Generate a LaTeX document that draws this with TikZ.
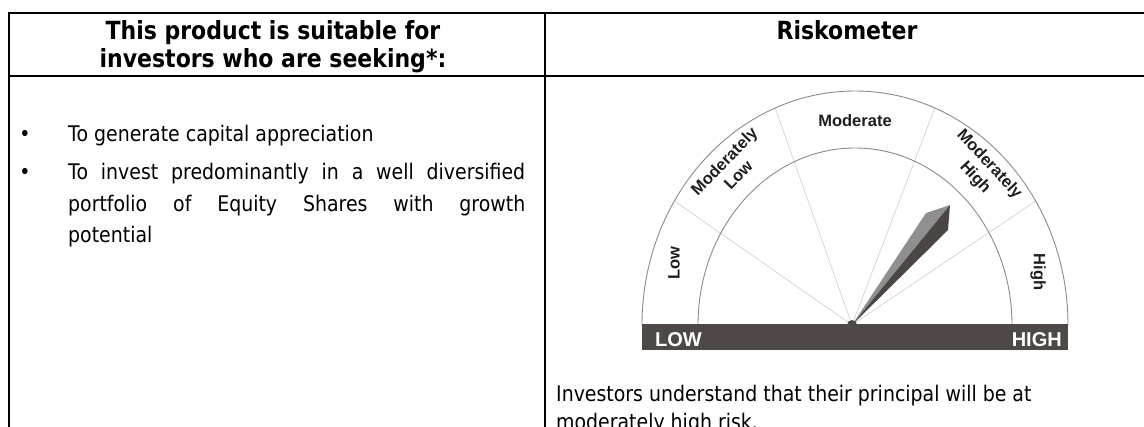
\documentclass[tikz,border=0pt]{standalone}
\usepackage{fontspec}
\setmainfont{DejaVu Sans}[FakeStretch=0.88]
\newfontfamily\gaugefont{Liberation Sans}
\definecolor{bardark}{HTML}{4E4946}
\definecolor{needlelight}{HTML}{8F8F8F}
\definecolor{needledark}{HTML}{4B4643}
\definecolor{arcgray}{HTML}{8A8A8A}
\definecolor{spokegray}{HTML}{D2D2D2}
\definecolor{labelgray}{HTML}{1E1E1E}
\begin{document}
\begin{tikzpicture}[x=1pt,y=1pt,
  rule/.style={line width=2pt, draw=black},
  hdr/.style={font=\fontsize{25}{28}\selectfont\bfseries, inner sep=0pt},
  body/.style={font=\fontsize{21.5}{31.5}\selectfont, inner sep=0pt},
  glabel/.style={font=\gaugefont\bfseries\fontsize{16.5}{19.5}\selectfont, align=center, inner sep=0pt, text=labelgray},
  barlabel/.style={font=\gaugefont\bfseries\fontsize{20}{20}\selectfont, text=white, inner sep=0pt},
  arcline/.style={draw=arcgray, line width=0.9pt},
  spoke/.style={draw=spokegray, line width=0.7pt}]
\clip (0,0) rectangle (1144,426);
\useasboundingbox (0,0) rectangle (1144,426);
% table rules
\draw[rule] (9,-5) -- (9,413) -- (1150,413);
\draw[rule] (9,350) -- (1150,350);
\draw[rule] (545,-5) -- (545,413);
% headers
\node[hdr, anchor=base] (h1a) at (273,386) {This product is suitable for};
\node[hdr, anchor=base] (h1b) at (273,358) {investors who are seeking*:};
\node[hdr, anchor=base] (h2) at (847,386) {Riskometer};
% left column bullets
\node[body, anchor=base] (d1) at (25,284) {•};
\node[body, anchor=base west] (p1) at (68,284) {To generate capital appreciation};
\node[body, anchor=base] (d2) at (25,246) {•};
\node[body, anchor=base west] (p2a) at (68,246) {\makebox[457pt][s]{To invest predominantly in a well diversified}};
\node[body, anchor=base west] (p2b) at (68,214.5) {\makebox[457pt][s]{portfolio of Equity Shares with growth}};
\node[body, anchor=base west] (p2c) at (68,183) {potential};
% right column text
\node[body, anchor=base west] (r1) at (556,24) {Investors understand that their principal will be at};
\node[body, anchor=base west] (r2) at (556,-3) {moderately high risk.};
% gauge
\coordinate (C) at (855,101);
\coordinate (P) at (852,101);
\foreach \a in {32,68,112,148} {
  \draw[spoke] (P) -- ([shift={(\a:213 and 234)}]C);
}
\draw[arcline] (1068,101) arc[start angle=0, end angle=180, x radius=213, y radius=234];
\draw[arcline] (1012,101) arc[start angle=0, end angle=180, x radius=157, y radius=177];
\fill[bardark] (642,76) rectangle (1068,101.5);
\node[barlabel, anchor=base west] (lo) at (655,79) {LOW};
\node[barlabel, anchor=base east] (hi) at (1062,79) {HIGH};
\node[glabel] (lmod) at (855,305) {Moderate};
\node[glabel, rotate=90] (llow) at (674,163) {Low};
\node[glabel, rotate=-90] (lhigh) at (1038,154) {High};
\node[glabel, rotate=46] (lml) at (731,258) {Moderately\\Low};
\node[glabel, rotate=-47] (lmh) at (982,255) {Moderately\\High};
% needle
\coordinate (T) at (950,221);
\coordinate (L) at (926,213);
\coordinate (R) at (948,196);
\fill[needlelight] (P) -- (L) -- (T) -- cycle;
\fill[needledark] (P) -- (T) -- (R) -- cycle;
\fill[bardark] (P) circle (5);
\end{tikzpicture}
\end{document}
